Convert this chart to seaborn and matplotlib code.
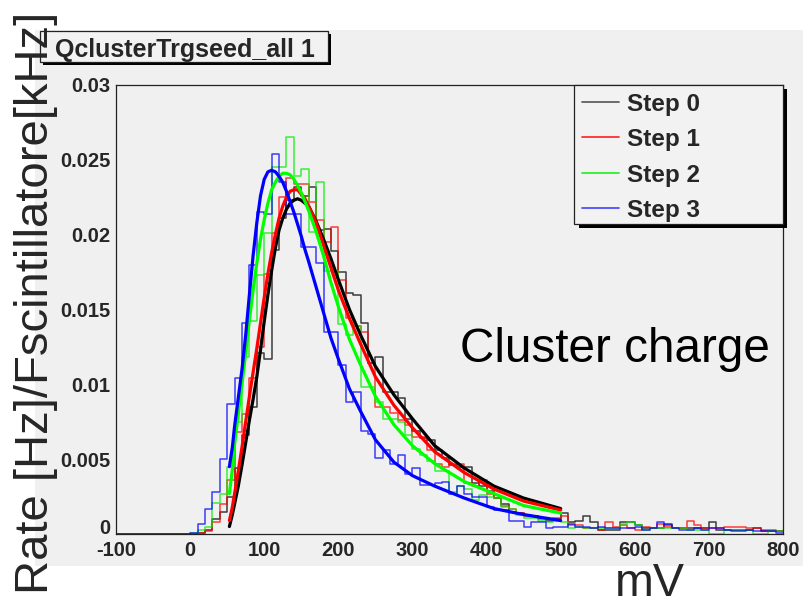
import numpy as np
import pandas as pd
import matplotlib
matplotlib.use("Agg")
import matplotlib.pyplot as plt
import seaborn as sns
from matplotlib import font_manager
from matplotlib.patches import Rectangle
from matplotlib.lines import Line2D

# ---------------- data ----------------
series_names = ["Step 0", "Step 1", "Step 2", "Step 3"]
bin_start_mv, bin_stop_mv, bin_width_mv = -100, 800, 10
empty_bins = [0.0] * 10                              # -100 .. 0 mV

step0_rate = empty_bins + [
    0.0000, 0.0001, 0.0003, 0.0010, 0.0015, 0.0025, 0.0044, 0.0066, 0.0085, 0.0121,
    0.0117, 0.0190, 0.0211, 0.0223, 0.0232, 0.0226, 0.0232, 0.0203, 0.0204, 0.0189,
    0.0175, 0.0161, 0.0160, 0.0141, 0.0114, 0.0118, 0.0095, 0.0095, 0.0091, 0.0077,
    0.0069, 0.0064, 0.0063, 0.0056, 0.0051, 0.0046, 0.0045, 0.0045, 0.0034, 0.0032,
    0.0029, 0.0024, 0.0020, 0.0015, 0.0014, 0.0013, 0.0012, 0.0011, 0.0009, 0.0010,
    0.0014, 0.0008, 0.0009, 0.0012, 0.0008, 0.0003, 0.0003, 0.0003, 0.0008, 0.0008,
    0.0006, 0.0004, 0.0004, 0.0004, 0.0007, 0.0004, 0.0004, 0.0004, 0.0004, 0.0004,
    0.0008, 0.0003, 0.0003, 0.0003, 0.0003, 0.0003, 0.0004, 0.0002, 0.0002, 0.0002]

step1_rate = empty_bins + [
    0.0000, 0.0001, 0.0002, 0.0008, 0.0020, 0.0036, 0.0068, 0.0080, 0.0104, 0.0125,
    0.0174, 0.0201, 0.0225, 0.0238, 0.0234, 0.0234, 0.0222, 0.0210, 0.0195, 0.0205,
    0.0170, 0.0144, 0.0139, 0.0135, 0.0114, 0.0085, 0.0085, 0.0081, 0.0076, 0.0073,
    0.0065, 0.0065, 0.0056, 0.0047, 0.0045, 0.0047, 0.0047, 0.0034, 0.0032, 0.0036,
    0.0027, 0.0024, 0.0019, 0.0017, 0.0014, 0.0012, 0.0012, 0.0010, 0.0010, 0.0011,
    0.0012, 0.0006, 0.0006, 0.0004, 0.0004, 0.0003, 0.0008, 0.0005, 0.0006, 0.0004,
    0.0003, 0.0005, 0.0004, 0.0007, 0.0005, 0.0004, 0.0004, 0.0009, 0.0006, 0.0004,
    0.0004, 0.0004, 0.0005, 0.0005, 0.0005, 0.0004, 0.0004, 0.0003, 0.0003, 0.0002]

step2_rate = empty_bins + [
    0.0001, 0.0003, 0.0005, 0.0021, 0.0027, 0.0045, 0.0075, 0.0118, 0.0142, 0.0173,
    0.0201, 0.0245, 0.0245, 0.0265, 0.0239, 0.0244, 0.0202, 0.0235, 0.0176, 0.0176,
    0.0140, 0.0133, 0.0139, 0.0098, 0.0098, 0.0088, 0.0077, 0.0077, 0.0075, 0.0066,
    0.0057, 0.0053, 0.0049, 0.0042, 0.0042, 0.0028, 0.0032, 0.0030, 0.0023, 0.0026,
    0.0025, 0.0024, 0.0018, 0.0017, 0.0013, 0.0011, 0.0011, 0.0009, 0.0008, 0.0009,
    0.0008, 0.0004, 0.0005, 0.0004, 0.0004, 0.0004, 0.0004, 0.0004, 0.0007, 0.0008,
    0.0006, 0.0003, 0.0004, 0.0004, 0.0004, 0.0004, 0.0004, 0.0003, 0.0003, 0.0003,
    0.0000, 0.0000, 0.0003, 0.0003, 0.0003, 0.0003, 0.0000, 0.0000, 0.0002, 0.0002]

step3_rate = empty_bins + [
    0.0001, 0.0007, 0.0017, 0.0028, 0.0050, 0.0087, 0.0104, 0.0141, 0.0180, 0.0215,
    0.0214, 0.0254, 0.0235, 0.0214, 0.0214, 0.0192, 0.0192, 0.0181, 0.0135, 0.0135,
    0.0113, 0.0088, 0.0095, 0.0069, 0.0067, 0.0051, 0.0056, 0.0047, 0.0053, 0.0040,
    0.0044, 0.0033, 0.0033, 0.0034, 0.0035, 0.0027, 0.0032, 0.0027, 0.0025, 0.0025,
    0.0018, 0.0016, 0.0016, 0.0009, 0.0009, 0.0005, 0.0008, 0.0008, 0.0004, 0.0005,
    0.0005, 0.0007, 0.0005, 0.0005, 0.0004, 0.0005, 0.0004, 0.0004, 0.0004, 0.0004,
    0.0005, 0.0003, 0.0004, 0.0008, 0.0006, 0.0004, 0.0003, 0.0003, 0.0004, 0.0003,
    0.0004, 0.0004, 0.0003, 0.0002, 0.0002, 0.0003, 0.0002, 0.0002, 0.0002, 0.0001]

# fitted curves
fit_mv = [53, 57, 60, 65, 70, 75, 80, 85, 90, 95, 100, 105, 110, 115, 120, 125, 130,
          135, 140, 145, 150, 155, 160, 170, 180, 190, 200, 215, 230, 250, 275, 300,
          330, 370, 410, 450, 500]
fit0 = [0.0005, 0.0013, 0.0020, 0.0032, 0.0046, 0.0061, 0.0076, 0.0090, 0.0105, 0.0123,
        0.0142, 0.0160, 0.0176, 0.0191, 0.0203, 0.0211, 0.0217, 0.0221, 0.0223, 0.0224,
        0.0223, 0.0221, 0.0219, 0.0209, 0.0197, 0.0184, 0.0170, 0.0150, 0.0133, 0.0112,
        0.0093, 0.0077, 0.0059, 0.0044, 0.0032, 0.0024, 0.0017]
fit1 = [0.0009, 0.0018, 0.0027, 0.0042, 0.0058, 0.0075, 0.0092, 0.0108, 0.0124, 0.0141,
        0.0158, 0.0174, 0.0188, 0.0200, 0.0211, 0.0219, 0.0225, 0.0229, 0.0230, 0.0230,
        0.0227, 0.0224, 0.0219, 0.0208, 0.0193, 0.0178, 0.0163, 0.0144, 0.0127, 0.0105,
        0.0086, 0.0071, 0.0055, 0.0041, 0.0030, 0.0022, 0.0016]
fit2 = [0.0027, 0.0043, 0.0060, 0.0080, 0.0100, 0.0121, 0.0143, 0.0163, 0.0181, 0.0197,
        0.0210, 0.0221, 0.0230, 0.0235, 0.0239, 0.0241, 0.0241, 0.0240, 0.0237, 0.0233,
        0.0228, 0.0222, 0.0216, 0.0202, 0.0186, 0.0168, 0.0152, 0.0130, 0.0113, 0.0092,
        0.0073, 0.0059, 0.0047, 0.0035, 0.0027, 0.0019, 0.0014]
fit3 = [0.0045, 0.0058, 0.0072, 0.0091, 0.0110, 0.0133, 0.0160, 0.0186, 0.0208, 0.0226,
        0.0237, 0.0242, 0.0243, 0.0242, 0.0239, 0.0235, 0.0229, 0.0222, 0.0215, 0.0207,
        0.0199, 0.0190, 0.0182, 0.0165, 0.0148, 0.0131, 0.0117, 0.0097, 0.0082, 0.0063,
        0.0048, 0.0039, 0.0032, 0.0024, 0.0017, 0.0013, 0.0009]

xtick_vals = [-100, 0, 100, 200, 300, 400, 500, 600, 700, 800]
xtick_labels = ["-100", "0", "100", "200", "300", "400", "500", "600", "700", "800"]
ytick_vals = [0, 0.005, 0.01, 0.015, 0.02, 0.025, 0.03]
ytick_labels = ["0", "0.005", "0.01", "0.015", "0.02", "0.025", "0.03"]

title_text = "QclusterTrgseed_all 1"
ylabel_text = "Rate [Hz]/Fscintillatore[kHz]"
xlabel_text = "mV"
annot_text = "Cluster charge"

# ---------------- style ----------------
sns.set_style("white")
plt.rcParams["font.family"] = ["Liberation Sans", "DejaVu Sans"]

W, H = 804, 605
BG = "#f0f0f0"
hist_colors = ["#000000", "#ff0000", "#00ee00", "#0000ff"]
fit_colors = ["#000000", "#ff0000", "#00ff00", "#0000ff"]
legend_colors = ["#606060", "#ff3030", "#30ee30", "#5050ff"]


def fx(px):
    return px / W


def fy(py):
    return 1 - py / H


fig = plt.figure(figsize=(W / 100, H / 100), dpi=100, facecolor="white")

# ROOT canvas background
fig.add_artist(Rectangle((fx(35), fy(566)), fx(804) - fx(35), fy(30) - fy(566),
                         transform=fig.transFigure, facecolor=BG, edgecolor="none", zorder=0))

ax = fig.add_axes([fx(116), fy(534), fx(783) - fx(116), fy(85) - fy(534)])
ax.set_facecolor(BG)

n_bins = (bin_stop_mv - bin_start_mv) // bin_width_mv
centers = [bin_start_mv + bin_width_mv * (i + 0.5) for i in range(n_bins)]
rates = [step0_rate, step1_rate, step2_rate, step3_rate]
fits = [fit0, fit1, fit2, fit3]

for name, vals, col in zip(series_names, rates, hist_colors):
    df = pd.DataFrame({"mV": centers, "rate": vals})
    sns.histplot(data=df, x="mV", weights="rate", binwidth=bin_width_mv,
                 binrange=(bin_start_mv, bin_stop_mv), element="step",
                 fill=False, color=col, linewidth=1.1, alpha=0.75, ax=ax, zorder=2)

for name, vals, col in zip(series_names, fits, fit_colors):
    sns.lineplot(x=fit_mv, y=vals, color=col, linewidth=2.3, ax=ax, zorder=3,
                 estimator=None, sort=False)

ax.set_xlim(-100, 800)
ax.set_ylim(0, 0.03)
ax.set_xlabel("")
ax.set_ylabel("")

tick_font = dict(family="Liberation Sans", weight="bold", size=14.5)
ax.set_xticks(xtick_vals)
ax.set_xticklabels(xtick_labels, fontdict=tick_font)
ax.set_yticks(ytick_vals)
# the "0" label of the y axis sits slightly higher in ROOT; drawn separately below
ax.set_yticklabels([""] + ytick_labels[1:], fontdict=tick_font)
ax.set_xticks(np.arange(-100, 801, 20), minor=True)
ax.set_yticks(np.arange(0, 0.0301, 0.001), minor=True)
ax.tick_params(axis="both", which="major", direction="in", length=9, width=0.9,
               color="#222222", top=False, right=False)
ax.tick_params(axis="both", which="minor", direction="in", length=4.5, width=0.9,
               color="#222222", top=False, right=False)
ax.tick_params(axis="x", which="major", pad=5)
ax.tick_params(axis="y", which="major", pad=4)
for s in ax.spines.values():
    s.set_color("#222222")
    s.set_linewidth(0.9)
    s.set_visible(True)
fig.text(fx(110), fy(528), ytick_labels[0], ha="right", va="center", **tick_font)

fig.text(fx(460), fy(349), annot_text, fontsize=34.3, family="Liberation Sans",
         ha="left", va="center", color="black", zorder=10)

# title box with shadow
fig.add_artist(Rectangle((fx(43), fy(65)), fx(331) - fx(43), fy(34) - fy(65),
                         transform=fig.transFigure, facecolor="black", edgecolor="none", zorder=5))
fig.add_artist(Rectangle((fx(40), fy(62)), fx(328) - fx(40), fy(31) - fy(62),
                         transform=fig.transFigure, facecolor="#f2f2f2", edgecolor="#222222",
                         linewidth=0.9, zorder=6))
fig.text(fx(55), fy(47.5), title_text, fontsize=18, weight="bold", family="Liberation Sans",
         ha="left", va="center_baseline", zorder=7)

# legend box with shadow
fig.add_artist(Rectangle((fx(579), fy(228)), fx(787) - fx(579), fy(89) - fy(228),
                         transform=fig.transFigure, facecolor="black", edgecolor="none", zorder=5))
fig.add_artist(Rectangle((fx(574), fy(224)), fx(783) - fx(574), fy(85) - fy(224),
                         transform=fig.transFigure, facecolor="#f2f2f2", edgecolor="#222222",
                         linewidth=0.9, zorder=6))
row_y = [101.5, 137, 172.5, 208]
for name, col, ry in zip(series_names, legend_colors, row_y):
    fig.add_artist(Line2D([fx(582), fx(619)], [fy(ry), fy(ry)], color=col, linewidth=1.3,
                          transform=fig.transFigure, zorder=7))
    fig.text(fx(627), fy(ry), name, fontsize=17.5, weight="bold", family="Liberation Sans",
             ha="left", va="center_baseline", zorder=7)

# big axis labels (over the canvas)
names = {f.name for f in font_manager.fontManager.ttflist}
if "Liberation Sans Narrow" in names:
    yl_family, yl_size = "Liberation Sans Narrow", 42
else:
    yl_family, yl_size = "Liberation Sans", 34
fig.text(fx(36), fy(303), ylabel_text, rotation=90, fontsize=yl_size, family=yl_family,
         ha="center", va="center", zorder=10)
fig.text(fx(650), fy(584), xlabel_text, fontsize=33.6, family="Liberation Sans",
         ha="center", va="center", zorder=10)

fig.savefig("out.png", dpi=100, facecolor="white")
